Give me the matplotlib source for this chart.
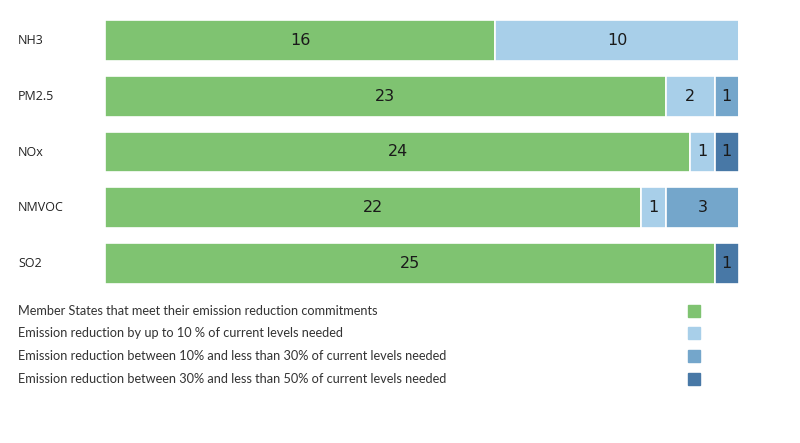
import numpy as np
import matplotlib.pyplot as plt
from matplotlib.patches import Rectangle

pollutants = ["NH3", "PM2.5", "NOx", "NMVOC", "SO2"]
meet = [16, 23, 24, 22, 25]
up_to_10 = [10, 2, 1, 1, 0]
from_10_to_30 = [0, 1, 0, 3, 0]
from_30_to_50 = [0, 0, 1, 0, 1]

legend_labels = [
    "Member States that meet their emission reduction commitments",
    "Emission reduction by up to 10 % of current levels needed",
    "Emission reduction between 10% and less than 30% of current levels needed",
    "Emission reduction between 30% and less than 50% of current levels needed",
]
colors = ["#7FC371", "#A8CFE9", "#74A6CB", "#4878A6"]

W, H = 800, 443
fig = plt.figure(figsize=(W / 100, H / 100), dpi=100)
ax = fig.add_axes([105 / W, 1 - 284 / H, (739 - 105) / W, 264 / H])

series = [meet, up_to_10, from_10_to_30, from_30_to_50]
y = np.arange(len(pollutants))
left = np.zeros(len(pollutants))
for vals, col in zip(series, colors):
    vals = np.array(vals, dtype=float)
    bars = ax.barh(y, vals, left=left, height=0.73, color=col,
                   edgecolor="white", linewidth=1.2)
    for b, v in zip(bars, vals):
        if v > 0:
            ax.text(b.get_x() + b.get_width() / 2, b.get_y() + b.get_height() / 2,
                    f"{int(v)}", ha="center", va="center", fontsize=11.5,
                    color="#1a1a1a", family="DejaVu Sans")
    left += vals

ax.set_xlim(0, 26)
ax.set_ylim(len(pollutants) - 1 + 0.365, -0.365)
ax.axis("off")

for i, name in enumerate(pollutants):
    fy = ax.transData.transform((0, i))[1]
    fig.text(18 / W, fy / H, name, ha="left", va="center", fontsize=9,
             family="Open Sans", color="#222222")

legend_y = [311, 333, 356, 379]
for lab, col, py in zip(legend_labels, colors, legend_y):
    fig.text(18 / W, 1 - py / H, lab, ha="left", va="center", fontsize=9.2,
             family="Lato", color="#333333")
    fig.patches.append(Rectangle((688 / W, 1 - (py + 6) / H), 12 / W, 12 / H,
                                 transform=fig.transFigure, color=col))

fig.savefig("out.png", dpi=100)
